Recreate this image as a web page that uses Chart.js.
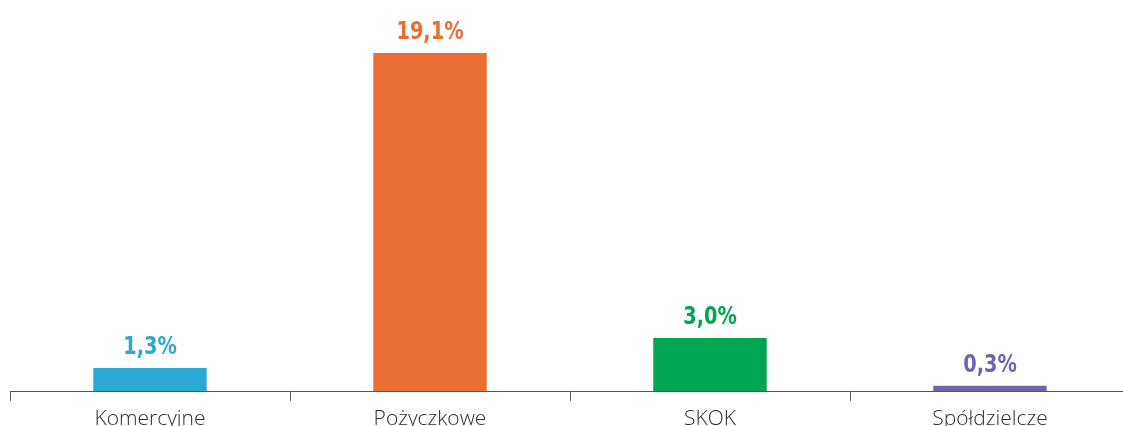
<!DOCTYPE html>
<html>
<head>
<meta charset="utf-8">
<script src="https://cdn.jsdelivr.net/npm/chart.js@4/dist/chart.umd.min.js"></script>
<style>
  html, body { margin: 0; padding: 0; background: #fff; overflow: hidden; }
  #wrap { position: relative; width: 1130px; height: 440px; }
</style>
</head>
<body>
<div id="wrap"><canvas id="chart"></canvas></div>
<script>
// Dane
const categories = ['Komercyjne', 'Pożyczkowe', 'SKOK', 'Spółdzielcze'];
const values = [1.3, 19.1, 3.0, 0.3];
const valueLabels = ['1,3%', '19,1%', '3,0%', '0,3%'];
const barColors = ['#2ba8d3', '#e96e34', '#00a651', '#7065aa'];

// Value labels above bars (condensed look)
const valueLabelPlugin = {
    id: 'valueLabels',
    afterDatasetsDraw(chart) {
        const ctx = chart.ctx;
        const meta = chart.getDatasetMeta(0);
        meta.data.forEach((bar, i) => {
            ctx.save();
            ctx.translate(bar.x, bar.y - 8);
            ctx.scale(0.86, 1);
            ctx.font = 'bold 25px "Liberation Sans Narrow", "DejaVu Sans Condensed", sans-serif';
            ctx.textAlign = 'center';
            ctx.textBaseline = 'bottom';
            ctx.fillStyle = barColors[i];
            ctx.fillText(valueLabels[i], 0, 0);
            ctx.restore();
        });
    }
};

new Chart(document.getElementById('chart'), {
    type: 'bar',
    data: {
        labels: categories,
        datasets: [{
            data: values,
            backgroundColor: barColors,
            barPercentage: 0.405,
            categoryPercentage: 1.0
        }]
    },
    options: {
        responsive: true,
        maintainAspectRatio: false,
        animation: false,
        layout: { padding: { left: 10, right: 0, top: 0, bottom: 0 } },
        plugins: { legend: { display: false }, tooltip: { enabled: false } },
        scales: {
            x: {
                offset: true,
                grid: {
                    offset: true,
                    drawOnChartArea: false,
                    drawTicks: true,
                    tickLength: 10,
                    color: '#555'
                },
                border: { display: true, color: '#555', width: 1 },
                ticks: {
                    color: '#2e2e2e',
                    padding: 5,
                    font: { family: '"Open Sans", sans-serif', size: 21, weight: 300 }
                },
                afterFit(scale) { scale.height = 49; }
            },
            y: {
                display: false,
                min: 0,
                max: 22.1
            }
        }
    },
    plugins: [valueLabelPlugin]
});
</script>
</body>
</html>
